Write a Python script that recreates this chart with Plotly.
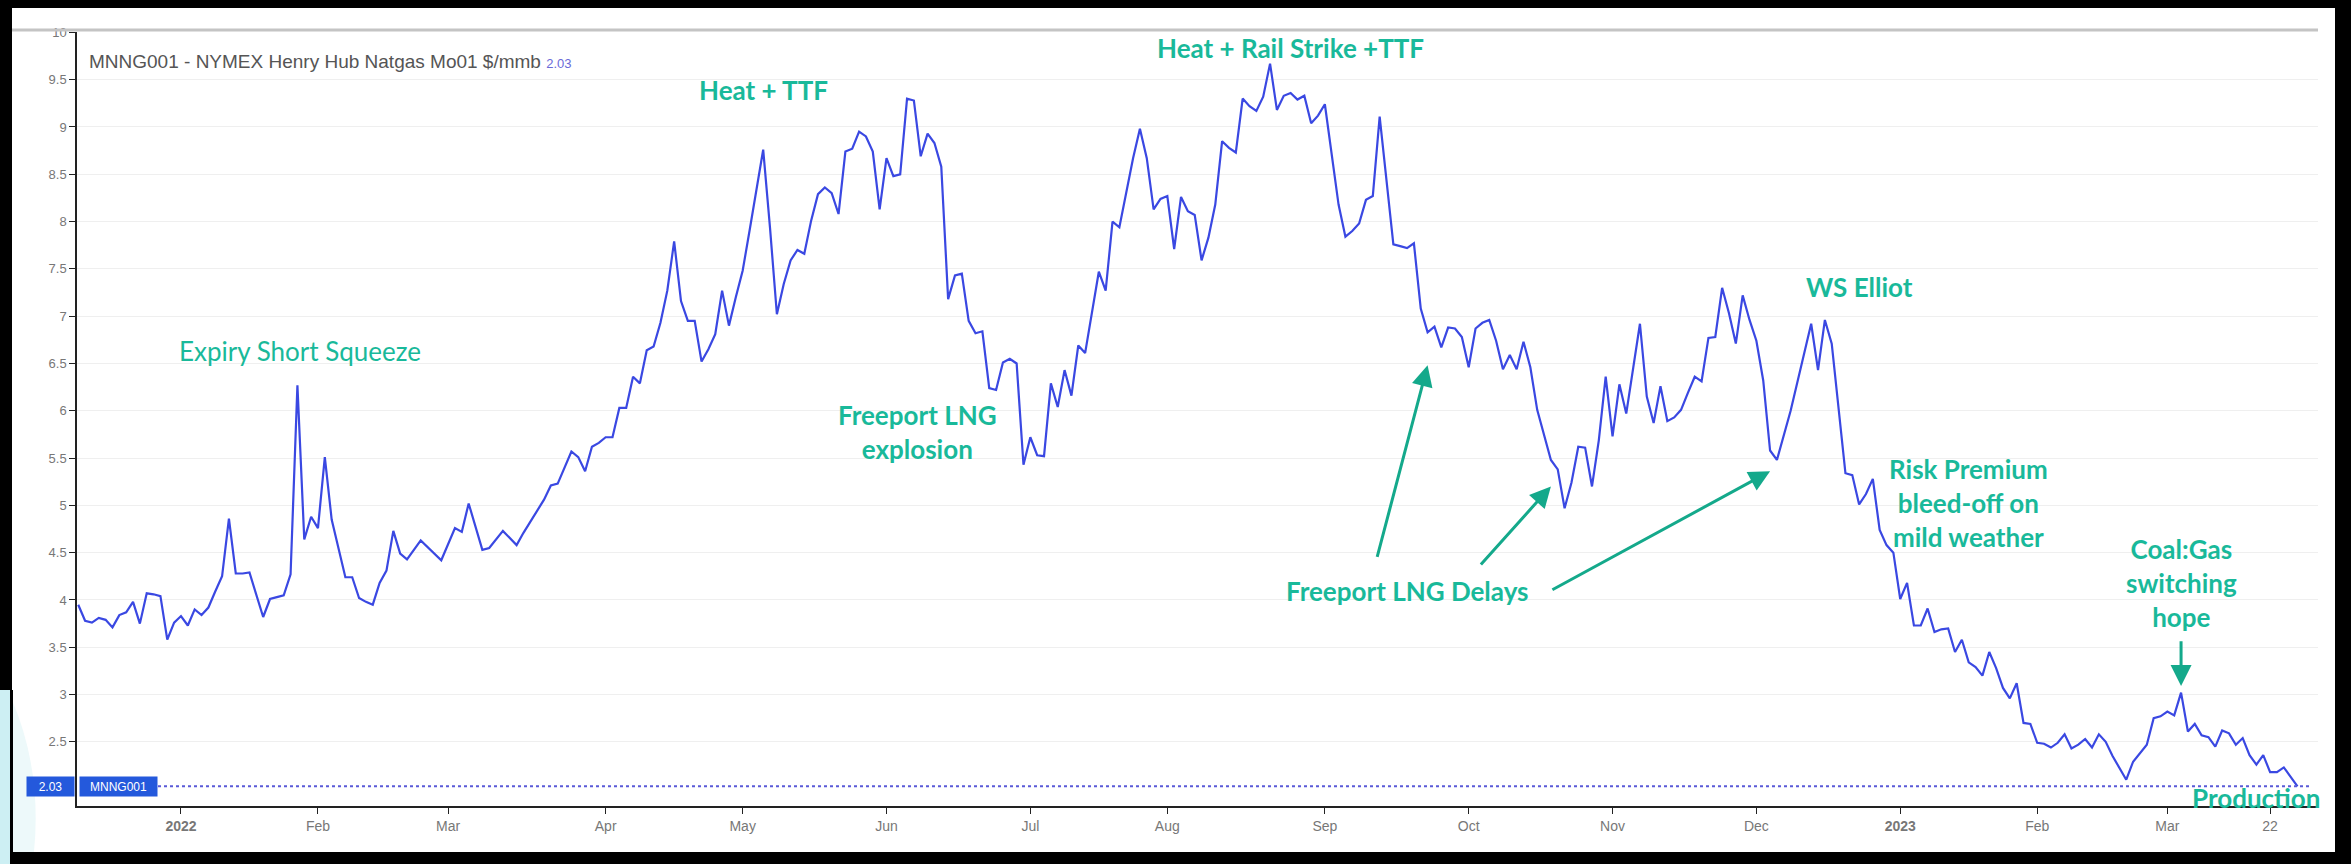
import plotly.graph_objects as go

# ---------------- data ----------------
dates = [
    "2021-12-10", "2021-12-13", "2021-12-14", "2021-12-15", "2021-12-16", "2021-12-17",
    "2021-12-20", "2021-12-21", "2021-12-22", "2021-12-23", "2021-12-27", "2021-12-28",
    "2021-12-29", "2021-12-30", "2021-12-31",
    "2022-01-03", "2022-01-04", "2022-01-05", "2022-01-06", "2022-01-07", "2022-01-10",
    "2022-01-11", "2022-01-12", "2022-01-13", "2022-01-14", "2022-01-18", "2022-01-20",
    "2022-01-21", "2022-01-24", "2022-01-25", "2022-01-26", "2022-01-27", "2022-01-28",
    "2022-01-31",
    "2022-02-01", "2022-02-02", "2022-02-03", "2022-02-07", "2022-02-08", "2022-02-09",
    "2022-02-10", "2022-02-11", "2022-02-14", "2022-02-15", "2022-02-16", "2022-02-17",
    "2022-02-18", "2022-02-23", "2022-02-28",
    "2022-03-02", "2022-03-03", "2022-03-04", "2022-03-08", "2022-03-09", "2022-03-11",
    "2022-03-15", "2022-03-16", "2022-03-21", "2022-03-22", "2022-03-23", "2022-03-25",
    "2022-03-28", "2022-03-29", "2022-03-30", "2022-03-31",
    "2022-04-01", "2022-04-04", "2022-04-05", "2022-04-06", "2022-04-07", "2022-04-08",
    "2022-04-11", "2022-04-12", "2022-04-13", "2022-04-14", "2022-04-18", "2022-04-19",
    "2022-04-20", "2022-04-21", "2022-04-22", "2022-04-25", "2022-04-26", "2022-04-27",
    "2022-04-28", "2022-04-29",
    "2022-05-02", "2022-05-03", "2022-05-05", "2022-05-06", "2022-05-09", "2022-05-10",
    "2022-05-11", "2022-05-12", "2022-05-13", "2022-05-16", "2022-05-17", "2022-05-18",
    "2022-05-19", "2022-05-20", "2022-05-23", "2022-05-24", "2022-05-25", "2022-05-26",
    "2022-05-27", "2022-05-31",
    "2022-06-01", "2022-06-02", "2022-06-03", "2022-06-06", "2022-06-07", "2022-06-08",
    "2022-06-09", "2022-06-10", "2022-06-13", "2022-06-14", "2022-06-15", "2022-06-16",
    "2022-06-17", "2022-06-21", "2022-06-22", "2022-06-23", "2022-06-24", "2022-06-27",
    "2022-06-28", "2022-06-29", "2022-06-30",
    "2022-07-01", "2022-07-05", "2022-07-06", "2022-07-07", "2022-07-08", "2022-07-11",
    "2022-07-12", "2022-07-13", "2022-07-14", "2022-07-18", "2022-07-19", "2022-07-20",
    "2022-07-21", "2022-07-25", "2022-07-26", "2022-07-27", "2022-07-28", "2022-07-29",
    "2022-08-01", "2022-08-02", "2022-08-03", "2022-08-04", "2022-08-05", "2022-08-08",
    "2022-08-09", "2022-08-10", "2022-08-11", "2022-08-12", "2022-08-15", "2022-08-16",
    "2022-08-17", "2022-08-18", "2022-08-19", "2022-08-22", "2022-08-23", "2022-08-24",
    "2022-08-25", "2022-08-26", "2022-08-29", "2022-08-30", "2022-08-31",
    "2022-09-01", "2022-09-06", "2022-09-07", "2022-09-08", "2022-09-09", "2022-09-12",
    "2022-09-13", "2022-09-14", "2022-09-16", "2022-09-19", "2022-09-20", "2022-09-21",
    "2022-09-22", "2022-09-23", "2022-09-26", "2022-09-27", "2022-09-28", "2022-09-29",
    "2022-09-30",
    "2022-10-03", "2022-10-04", "2022-10-05", "2022-10-06", "2022-10-07", "2022-10-10",
    "2022-10-11", "2022-10-12", "2022-10-13", "2022-10-14", "2022-10-17", "2022-10-18",
    "2022-10-19", "2022-10-20", "2022-10-21", "2022-10-24", "2022-10-25", "2022-10-26",
    "2022-10-27", "2022-10-28", "2022-10-31",
    "2022-11-01", "2022-11-02", "2022-11-03", "2022-11-04", "2022-11-07", "2022-11-08",
    "2022-11-09", "2022-11-10", "2022-11-11", "2022-11-14", "2022-11-15", "2022-11-16",
    "2022-11-17", "2022-11-18", "2022-11-21", "2022-11-22", "2022-11-23", "2022-11-25",
    "2022-11-28", "2022-11-29", "2022-11-30",
    "2022-12-01", "2022-12-02", "2022-12-05", "2022-12-06", "2022-12-08", "2022-12-13",
    "2022-12-14", "2022-12-15", "2022-12-16", "2022-12-20", "2022-12-21", "2022-12-22",
    "2022-12-23", "2022-12-27", "2022-12-28", "2022-12-29", "2022-12-30",
    "2023-01-03", "2023-01-04", "2023-01-05", "2023-01-06", "2023-01-09", "2023-01-10",
    "2023-01-11", "2023-01-12", "2023-01-13", "2023-01-17", "2023-01-18", "2023-01-19",
    "2023-01-20", "2023-01-23", "2023-01-24", "2023-01-25", "2023-01-26", "2023-01-27",
    "2023-01-30", "2023-01-31",
    "2023-02-01", "2023-02-02", "2023-02-03", "2023-02-06", "2023-02-07", "2023-02-08",
    "2023-02-09", "2023-02-10", "2023-02-13", "2023-02-14", "2023-02-15", "2023-02-16",
    "2023-02-21", "2023-02-22", "2023-02-24", "2023-02-27", "2023-02-28",
    "2023-03-01", "2023-03-02", "2023-03-03", "2023-03-06", "2023-03-07", "2023-03-08",
    "2023-03-09", "2023-03-10", "2023-03-13", "2023-03-14", "2023-03-15", "2023-03-16",
    "2023-03-17", "2023-03-20", "2023-03-21", "2023-03-22", "2023-03-23", "2023-03-24",
    "2023-03-27", "2023-03-28",
]

prices = [
    3.95, 3.78, 3.76, 3.81, 3.79, 3.71,
    3.84, 3.87, 3.98, 3.75, 4.07, 4.06,
    4.04, 3.58, 3.76,
    3.83, 3.73, 3.90, 3.84, 3.92, 4.09,
    4.25, 4.86, 4.28, 4.28, 4.29, 3.82,
    4.01, 4.03, 4.05, 4.27, 6.27, 4.64,
    4.88,
    4.76, 5.51, 4.85, 4.24, 4.24, 4.02,
    3.98, 3.95, 4.18, 4.31, 4.73, 4.49,
    4.43, 4.63, 4.42,
    4.76, 4.72, 5.02, 4.53, 4.55, 4.73,
    4.58, 4.71, 5.06, 5.21, 5.23, 5.57,
    5.51, 5.36, 5.62, 5.66,
    5.72, 5.72, 6.03, 6.03, 6.36, 6.29,
    6.64, 6.68, 6.93, 7.27, 7.79, 7.16,
    6.95, 6.95, 6.52, 6.65, 6.81, 7.27,
    6.90, 7.20,
    7.48, 7.90, 8.76, 7.93, 7.02, 7.34,
    7.59, 7.70, 7.66, 8.01, 8.29, 8.36,
    8.30, 8.08, 8.74, 8.77, 8.95, 8.90,
    8.74, 8.13,
    8.67, 8.48, 8.50, 9.30, 9.28, 8.69,
    8.93, 8.83, 8.58, 7.18, 7.43, 7.45,
    6.95, 6.82, 6.84, 6.24, 6.22, 6.51,
    6.55, 6.50, 5.43,
    5.72, 5.53, 5.52, 6.29, 6.04, 6.43,
    6.16, 6.69, 6.61, 7.47, 7.27, 8.00,
    7.94, 8.67, 8.98, 8.67, 8.13, 8.24,
    8.27, 7.71, 8.26, 8.11, 8.07, 7.59,
    7.83, 8.18, 8.85, 8.78, 8.73, 9.30,
    9.22, 9.17, 9.32, 9.67, 9.18, 9.33,
    9.36, 9.29, 9.33, 9.04, 9.12,
    9.24, 8.18, 7.84, 7.90, 7.98, 8.23,
    8.27, 9.11, 7.76, 7.74, 7.72, 7.77,
    7.08, 6.83, 6.89, 6.67, 6.88, 6.87,
    6.78,
    6.46, 6.87, 6.93, 6.96, 6.74, 6.44,
    6.59, 6.44, 6.73, 6.46, 6.01, 5.73,
    5.48, 5.38, 4.97, 5.24, 5.62, 5.61,
    5.20, 5.69, 6.36,
    5.73, 6.28, 5.97, 6.43, 6.92, 6.15,
    5.87, 6.26, 5.89, 5.93, 6.01, 6.19,
    6.36, 6.31, 6.77, 6.78, 7.30, 7.03,
    6.71, 7.22, 6.96,
    6.74, 6.32, 5.58, 5.48, 6.00, 6.92,
    6.43, 6.96, 6.71, 5.34, 5.32, 5.01,
    5.12, 5.28, 4.74, 4.58, 4.50,
    4.01, 4.18, 3.73, 3.73, 3.91, 3.66,
    3.69, 3.70, 3.45, 3.58, 3.34, 3.29,
    3.20, 3.45, 3.28, 3.07, 2.96, 3.12,
    2.70, 2.69,
    2.49, 2.48, 2.44, 2.49, 2.58, 2.43,
    2.47, 2.53, 2.44, 2.58, 2.50, 2.35,
    2.10, 2.29, 2.47, 2.75, 2.77,
    2.82, 2.78, 3.02, 2.61, 2.69, 2.57,
    2.55, 2.45, 2.62, 2.59, 2.47, 2.54,
    2.36, 2.26, 2.36, 2.18, 2.18, 2.23,
    2.13, 2.03,
]

# exchange holidays (no bars on the trading-day axis)
holidays = [
    "2021-12-24", "2022-01-17", "2022-02-21", "2022-04-15", "2022-05-30", "2022-06-20",
    "2022-07-04", "2022-09-05", "2022-11-24", "2022-12-26", "2023-01-02", "2023-01-16",
    "2023-02-20",
]

tick_dates = [
    "2022-01-03", "2022-02-01", "2022-03-01", "2022-04-01", "2022-05-02", "2022-06-01",
    "2022-07-01", "2022-08-01", "2022-09-01", "2022-10-03", "2022-11-01", "2022-12-01",
    "2023-01-03", "2023-02-01", "2023-03-01", "2023-03-22",
]
tick_labels = ["<b>2022</b>", "Feb", "Mar", "Apr", "May", "Jun", "Jul", "Aug", "Sep",
               "Oct", "Nov", "Dec", "<b>2023</b>", "Feb", "Mar", "22"]

y_ticks = [2.5, 3, 3.5, 4, 4.5, 5, 5.5, 6, 6.5, 7, 7.5, 8, 8.5, 9, 9.5, 10]
y_labels = [("%g" % v) for v in y_ticks]

series_name = "MNNG001"
title_text = "MNNG001 - NYMEX Henry Hub Natgas Mo01 $/mmb"

# event notes: (text, date, price, bold)
notes = [
    ("Expiry Short Squeeze", "2022-01-27 10:00", 6.63, False),
    ("Heat + TTF", "2022-05-05", 9.39, True),
    ("Heat + Rail Strike +TTF", "2022-08-25", 9.83, True),
    ("Freeport LNG<br>explosion", "2022-06-07 14:00", 5.78, True),
    ("WS Elliot", "2022-12-22", 7.31, True),
    ("Risk Premium<br>bleed-off on<br>mild weather", "2023-01-18", 5.02, True),
    ("Coal:Gas<br>switching<br>hope", "2023-03-03", 4.18, True),
    ("Freeport LNG Delays", "2022-09-20", 4.10, True),
    ("Production", "2023-03-20", 1.91, True),
]
# arrows: (tail date, tail price, tip date, tip price)
arrows = [
    ("2022-09-13 14:00", 4.44, "2022-09-23", 6.48),
    ("2022-10-04 14:00", 4.36, "2022-10-19", 5.20),
    ("2022-10-19", 4.10, "2022-12-05", 5.36),
    ("2023-03-03", 3.58, "2023-03-03", 3.09),
]

# ---------------- layout geometry ----------------
W, H = 2351, 864
L, R, T, B = 77, 2318, 32, 806  # plot-area pixel box


def px(x):
    return (x - L) / (R - L)


def py(y):
    return (B - y) / (B - T)


TEAL = "#19b99a"
ARROW = "#14a98b"
LINE = "#3a48e2"
NOTE_FONT = "Lato, Noto Sans, sans-serif"

fig = go.Figure()
fig.add_trace(go.Scatter(x=dates, y=prices, mode="lines",
                         line=dict(color=LINE, width=2.2), hoverinfo="x+y",
                         showlegend=False))

last = prices[-1]
annotations = []
for text, d, v, bold in notes:
    annotations.append(dict(
        x=d, y=v, xref="x", yref="y", text=(f"<b>{text}</b>" if bold else text),
        showarrow=False, xanchor="center", yanchor="middle", align="center",
        font=dict(family=NOTE_FONT, size=26, color=TEAL)))
for ax, ay, x, y in arrows:
    annotations.append(dict(
        x=x, y=y, ax=ax, ay=ay, xref="x", yref="y", axref="x", ayref="y",
        text="", showarrow=True, arrowhead=2, arrowsize=1.4, arrowwidth=3,
        arrowcolor=ARROW, standoff=0, startstandoff=0))

# title + last value
annotations.append(dict(
    x=px(87), y=py(62), xref="paper", yref="paper", xanchor="left", yanchor="middle",
    showarrow=False,
    text=f"{title_text} <span style='color:#6a6ad8;font-size:13px'>{last:.2f}</span>",
    font=dict(family="Liberation Sans, Arial, sans-serif", size=19, color="#555555")))
# last value tags
annotations.append(dict(
    x=px(75), y=last, xref="paper", yref="y", xanchor="right", yanchor="middle",
    showarrow=False, text=f"{last:.2f}", bgcolor="#2459dc", borderpad=2,
    width=43, height=15,
    font=dict(family="Liberation Sans, Arial, sans-serif", size=12, color="white")))
annotations.append(dict(
    x=px(79), y=last, xref="paper", yref="y", xanchor="left", yanchor="middle",
    showarrow=False, text=series_name, bgcolor="#2459dc", borderpad=2,
    width=73, height=15,
    font=dict(family="Liberation Sans Narrow, Liberation Sans, sans-serif", size=12,
              color="white")))

shapes = [
    # faint slide decoration at the lower-left
    dict(type="path", xref="paper", yref="paper",
         path=(f"M {px(12)},{py(700)} Q {px(42)},{py(770)} {px(34)},{py(852)} "
               f"L {px(12)},{py(852)} Z"),
         fillcolor="#edf9fa", line=dict(width=0), layer="below"),
    # last price dotted line
    dict(type="line", xref="paper", yref="y", x0=px(158), x1=px(2310), y0=last, y1=last,
         line=dict(color="#5a5ad8", width=2, dash="dot"), layer="above"),
    # header separator line
    dict(type="line", xref="paper", yref="paper", x0=px(12), x1=px(2318), y0=py(30),
         y1=py(30), line=dict(color="#c4c4c4", width=3), layer="above"),
]
# frame: black bands, with the slide's cyan showing at the lower-left edge
frame = [
    (0, 12, 0, 690, "black"), (0, 10, 690, H, "#cdeff3"), (10, 13, 690, H, "black"),
    (2335, W, 0, H, "black"), (0, W, 0, 8, "black"), (10, W, 852, H, "black"),
]
for x0, x1, y0, y1, col in frame:
    shapes.append(dict(type="rect", xref="paper", yref="paper", x0=px(x0), x1=px(x1),
                       y0=py(y1), y1=py(y0), fillcolor=col,
                       line=dict(width=0), layer="above"))

fig.update_layout(
    width=W, height=H,
    margin=dict(l=L, r=W - R, t=T, b=H - B, pad=0),
    paper_bgcolor="white", plot_bgcolor="rgba(0,0,0,0)",
    font=dict(family="Liberation Sans, Arial, sans-serif", color="#777777"),
    annotations=annotations, shapes=shapes, showlegend=False,
    xaxis=dict(
        type="date", range=["2021-12-09 19:40", "2023-03-30 23:50"],
        rangebreaks=[dict(bounds=["sat", "mon"]), dict(values=holidays)],
        tickmode="array", tickvals=tick_dates, ticktext=tick_labels,
        showgrid=False, zeroline=False, showline=True, linecolor="#222222", linewidth=1.5,
        ticks="outside", ticklen=6, tickcolor="#222222",
        tickfont=dict(size=14, color="#777777")),
    yaxis=dict(
        range=[1.822, 10.004], tickmode="array", tickvals=y_ticks, ticktext=y_labels,
        showgrid=True, gridcolor="#efefef", gridwidth=1, zeroline=False,
        showline=True, linecolor="#222222", linewidth=1.5,
        ticks="outside", ticklen=6, tickcolor="#222222",
        tickfont=dict(size=13, color="#777777")),
)

fig.write_html(
    "out.html",
    config={"displayModeBar": False},
    post_script="document.body.style.margin='0px';document.body.style.overflow='hidden';",
)
